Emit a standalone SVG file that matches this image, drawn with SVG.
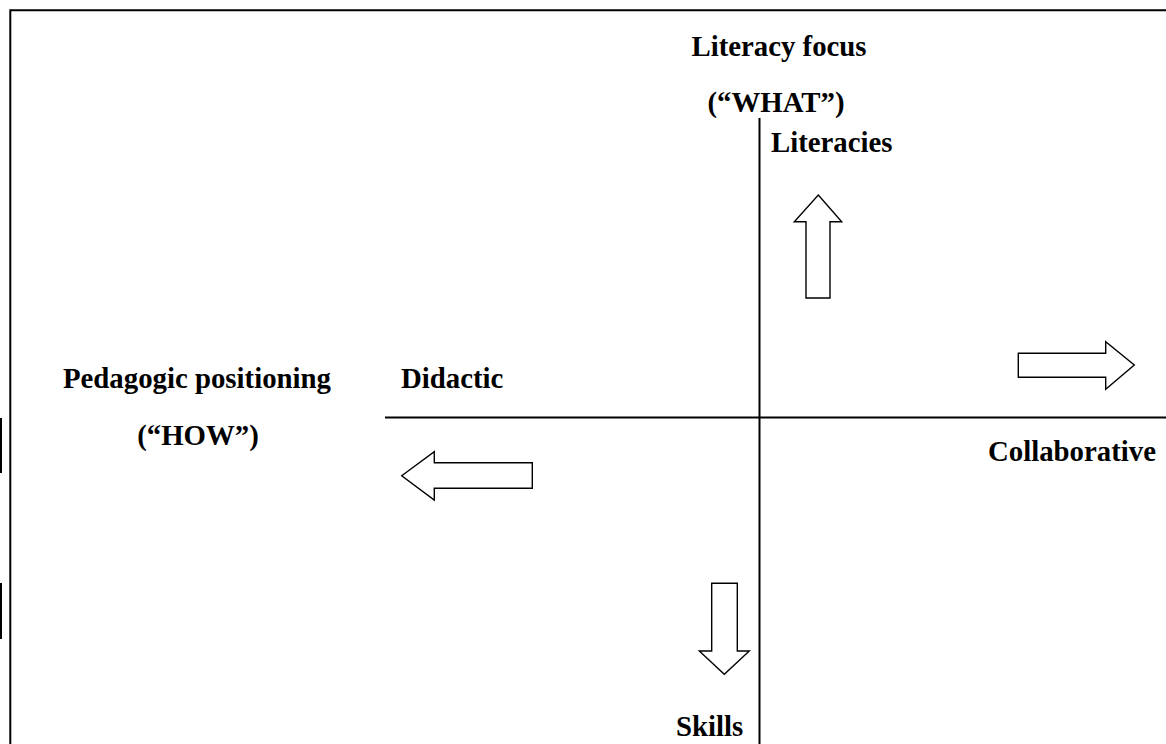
<svg xmlns="http://www.w3.org/2000/svg" width="1166" height="744" viewBox="0 0 1166 744">
<style>
.t{font-family:"Liberation Serif","Times New Roman",serif;font-weight:bold;font-size:28.8px;fill:#000}
.arr{fill:#fff;stroke:#000;stroke-width:1.4;stroke-linejoin:miter}
.ln{stroke:#000;stroke-width:2;fill:none}
</style>
<rect width="1166" height="744" fill="#fff"/>
<g id="frame">
<path class="ln" d="M10.3,744 V10.3 H1166"/>
<rect x="0" y="418" width="2" height="55" fill="#000"/>
<rect x="0" y="583" width="2" height="56" fill="#000"/>
</g>
<g id="connectors">
<line class="ln" x1="759.5" y1="118" x2="759.5" y2="744"/>
<line class="ln" x1="385" y1="417.5" x2="1166" y2="417.5"/>
<polygon id="arrow-up" class="arr" points="818.3,195 841.7,221.7 830,221.7 830,298 806,298 806,221.7 794.3,221.7"/>
<polygon id="arrow-right" class="arr" points="1018.3,353.3 1105.7,353.3 1105.7,341.7 1134.3,365 1105.7,389.3 1105.7,377.3 1018.3,377.3"/>
<polygon id="arrow-left" class="arr" points="401.7,475.7 434.3,451.7 434.3,462.7 532.3,462.7 532.3,488.3 434.3,488.3 434.3,500"/>
<polygon id="arrow-down" class="arr" points="711.7,583.3 737.3,583.3 737.3,651 749.3,651 724.3,674.3 699.3,651 711.7,651"/>
</g>
<g id="literacy-focus">
<text class="t" x="779" y="56" text-anchor="middle">Literacy focus</text>
<text class="t" x="776" y="112" text-anchor="middle">(“WHAT”)</text>
</g>
<g id="literacies"><text class="t" x="771" y="152">Literacies</text></g>
<g id="pedagogic">
<text class="t" x="197" y="388" text-anchor="middle">Pedagogic positioning</text>
<text class="t" x="198" y="445" text-anchor="middle">(“HOW”)</text>
</g>
<g id="didactic"><text class="t" x="401" y="388">Didactic</text></g>
<g id="collaborative"><text class="t" x="988" y="461">Collaborative</text></g>
<g id="skills"><text class="t" x="676" y="736">Skills</text></g>
</svg>
